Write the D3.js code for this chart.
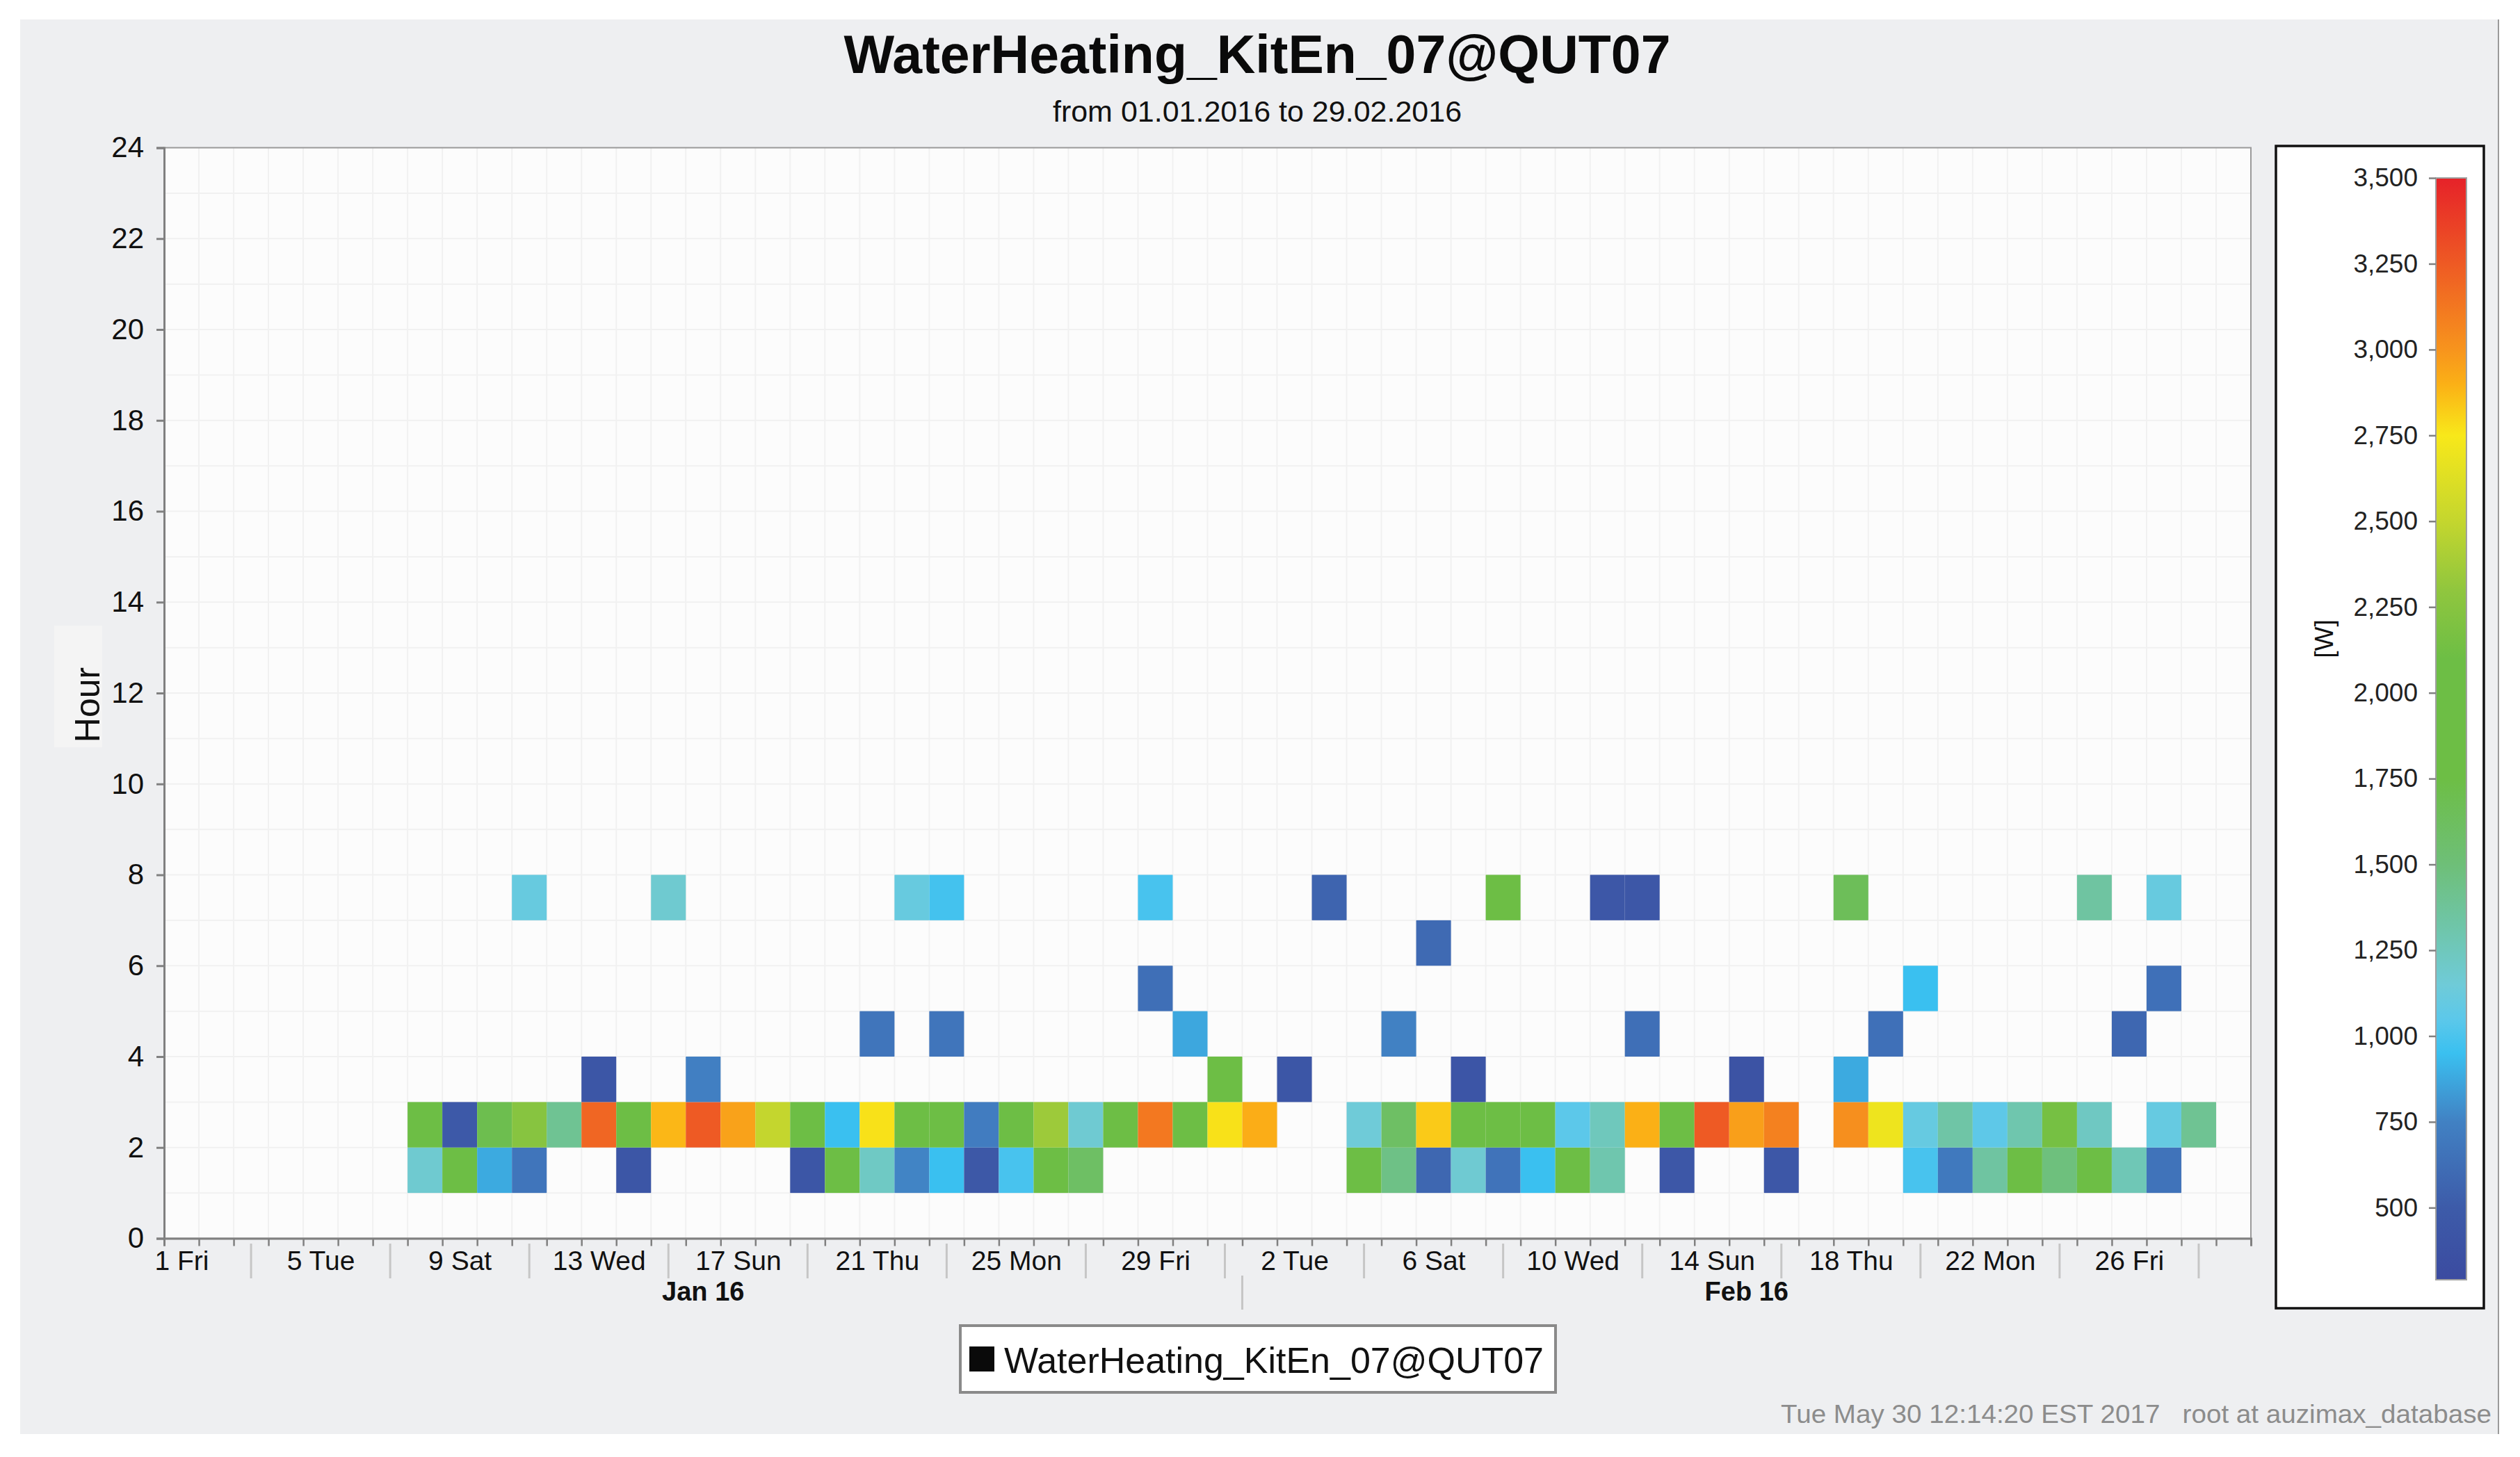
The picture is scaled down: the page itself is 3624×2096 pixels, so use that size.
<!DOCTYPE html>
<html lang="en">
<head>
<meta charset="utf-8">
<script src="https://d3js.org/d3.v7.min.js"></script>
<style>
  body { margin: 0; background: #fff; }
  svg text { font-family: "Liberation Sans", Arial, sans-serif; fill: #111; }
</style>
</head>
<body>
<script>
    // period shown: one column per day, Jan 1 .. Feb 29 2016
    const startDay = "2016-01-01";
    const endDay = "2016-03-01";

    // hour rows (cell spans hour .. hour+1), one value per day, null = no data [W]
    const rowHours = [1, 2, 3, 4, 5, 6, 7];
    const hour1 = [
        null, null, null, null, null, null, null, 1180, 1900, 880,
        670, null, null, 430, null, null, null, null, 430, 1900,
        1220, 760, 950, 460, 990, 1900, 1600, null, null, null,
        null, null, null, null, 1850, 1450, 580, 1170, 660, 950,
        1900, 1300, null, 450, null, null, 450, null, null, null,
        990, 700, 1350, 1900, 1480, 1900, 1270, 660, null, null];
    const hour2 = [
        null, null, null, null, null, null, null, 1900, 480, 1700,
        2250, 1400, 3200, 1800, 2880, 3250, 2950, 2500, 2000, 950,
        2770, 1900, 1900, 720, 2000, 2350, 1170, 1900, 3120, 1900,
        2770, 2910, null, null, 1150, 1600, 2830, 1900, 1900, 1900,
        1050, 1250, 2900, 1900, 3250, 2960, 3080, null, 3020, 2700,
        1100, 1330, 1060, 1300, 2150, 1230, null, 1100, 1400, null];
    const hour3 = [
        null, null, null, null, null, null, null, null, null, null,
        null, null, 430, null, null, 740, null, null, null, null,
        null, null, null, null, null, null, null, null, null, null,
        1900, null, 430, null, null, null, null, 420, null, null,
        null, null, null, null, null, 390, null, null, 880, null,
        null, null, null, null, null, null, null, null, null, null];
    const hour4 = [
        null, null, null, null, null, null, null, null, null, null,
        null, null, null, null, null, null, null, null, null, null,
        670, null, 670, null, null, null, null, null, null, 870,
        null, null, null, null, null, 750, null, null, null, null,
        null, null, 630, null, null, null, null, null, null, 640,
        null, null, null, null, null, null, 580, null, null, null];
    const hour5 = [
        null, null, null, null, null, null, null, null, null, null,
        null, null, null, null, null, null, null, null, null, null,
        null, null, null, null, null, null, null, null, 630, null,
        null, null, null, null, null, null, null, null, null, null,
        null, null, null, null, null, null, null, null, null, null,
        950, null, null, null, null, null, null, 640, null, null];
    const hour6 = [
        null, null, null, null, null, null, null, null, null, null,
        null, null, null, null, null, null, null, null, null, null,
        null, null, null, null, null, null, null, null, null, null,
        null, null, null, null, null, null, 600, null, null, null,
        null, null, null, null, null, null, null, null, null, null,
        null, null, null, null, null, null, null, null, null, null];
    const hour7 = [
        null, null, null, null, null, null, null, null, null, null,
        1110, null, null, null, 1180, null, null, null, null, null,
        null, 1110, 980, null, null, null, null, null, 990, null,
        null, null, null, 560, null, null, null, null, 1750, null,
        null, 450, 450, null, null, null, null, null, 1650, null,
        null, null, null, null, null, 1350, null, 1110, null, null];
    const rows = [hour1, hour2, hour3, hour4, hour5, hour6, hour7];

    // x axis labels
    const tickDays = ["2016-01-01", "2016-01-05", "2016-01-09", "2016-01-13", "2016-01-17",
        "2016-01-21", "2016-01-25", "2016-01-29", "2016-02-02", "2016-02-06", "2016-02-10",
        "2016-02-14", "2016-02-18", "2016-02-22", "2016-02-26"];
    const tickLabels = ["1 Fri", "5 Tue", "9 Sat", "13 Wed", "17 Sun", "21 Thu", "25 Mon",
        "29 Fri", "2 Tue", "6 Sat", "10 Wed", "14 Sun", "18 Thu", "22 Mon", "26 Fri"];
    const monthStarts = ["2016-01-01", "2016-02-01", "2016-03-01"];
    const monthLabels = ["Jan 16", "Feb 16"];

    // colour scale of the legend bar
    const wattMin = 290, wattMax = 3500;
    const legendTicks = [500, 750, 1000, 1250, 1500, 1750, 2000, 2250, 2500, 2750, 3000, 3250, 3500];
    const colorStops = [290, 500, 750, 950, 1050, 1150, 1300, 1500, 1750, 2100, 2300, 2500, 2750, 2900, 3000, 3250, 3500];
    const colorRange = ["#3b4ba0", "#3d5ba9", "#4181c3", "#3ac0f0", "#5cc8ea", "#6fcbd8", "#6fc6ae",
        "#6ebf78", "#6dbe45", "#6dbe45", "#90c63e", "#c4d62e", "#f8e81a", "#fbb016", "#f7941d",
        "#ee5a24", "#e62229"];

    const W = 3624, H = 2096;
    const parse = d3.utcParse("%Y-%m-%d");
    const color = d3.scaleLinear().domain(colorStops).range(colorRange).clamp(true);

    const svg = d3.select("body").append("svg")
        .attr("width", W).attr("height", H);

    // grey chart panel
    svg.append("rect").attr("x", 29).attr("y", 28).attr("width", 3564).attr("height", 2035)
        .attr("fill", "#eeeff1");
    svg.append("line").attr("x1", 3593).attr("x2", 3593).attr("y1", 28).attr("y2", 2063)
        .attr("stroke", "#9a9a9a").attr("stroke-width", 2);

    const x = d3.scaleUtc().domain([parse(startDay), parse(endDay)]).range([236, 3237]);
    const y = d3.scaleLinear().domain([0, 24]).range([1781.5, 212.5]);
    const allDays = d3.utcDay.range(parse(startDay), parse(endDay));

    // plot background + grid
    svg.append("rect").attr("x", x.range()[0]).attr("y", y(24))
        .attr("width", x.range()[1] - x.range()[0]).attr("height", y(0) - y(24))
        .attr("fill", "#fcfcfc");

    const grid = svg.append("g");
    grid.selectAll(".gx").data(allDays.slice(1)).enter().append("line")
        .attr("x1", d => x(d)).attr("x2", d => x(d))
        .attr("y1", y(24)).attr("y2", y(0))
        .attr("stroke", "#f1f1f1").attr("stroke-width", 2);
    grid.selectAll(".gy").data(d3.range(1, 24)).enter().append("line")
        .attr("x1", x.range()[0]).attr("x2", x.range()[1])
        .attr("y1", d => y(d)).attr("y2", d => y(d))
        .attr("stroke", "#f1f1f1").attr("stroke-width", 2);

    // heat cells
    let cells = [];
    rows.forEach(function(arr, r) {
        arr.forEach(function(v, i) {
            if (v != null) {
                cells.push({ day: allDays[i], hour: rowHours[r], value: v });
            }
        });
    });

    svg.append("g").selectAll("rect")
        .data(cells)
        .enter()
        .append("rect")
        .attr("x", d => x(d.day))
        .attr("width", d => x(d3.utcDay.offset(d.day, 1)) - x(d.day))
        .attr("y", d => y(d.hour + 1))
        .attr("height", d => y(d.hour) - y(d.hour + 1))
        .attr("fill", d => color(d.value));

    // plot frame
    svg.append("rect").attr("x", x.range()[0]).attr("y", y(24))
        .attr("width", x.range()[1] - x.range()[0]).attr("height", y(0) - y(24))
        .attr("fill", "none").attr("stroke", "#9a9a9a").attr("stroke-width", 2);

    // y axis
    const yAxis = svg.append("g")
        .attr("transform", "translate(" + x.range()[0] + ",0)")
        .call(d3.axisLeft(y).tickValues(d3.range(0, 25, 2)).tickSize(11).tickPadding(18));
    yAxis.select(".domain").attr("stroke", "#808080").attr("stroke-width", 3);
    yAxis.selectAll(".tick line").attr("stroke", "#808080").attr("stroke-width", 3);
    yAxis.selectAll(".tick text").style("font-size", "42px");

    // x axis: one tick per day
    const xAxis = svg.append("g")
        .attr("transform", "translate(0," + y(0) + ")")
        .call(d3.axisBottom(x).tickValues(allDays.concat([parse(endDay)])).tickSize(11).tickFormat(""));
    xAxis.select(".domain").attr("stroke", "#808080").attr("stroke-width", 3);
    xAxis.selectAll(".tick line").attr("stroke", "#808080").attr("stroke-width", 2.5);

    // day labels centred in their column
    const tickDates = tickDays.map(parse);
    const xLabels = svg.append("g")
        .attr("transform", "translate(0," + y(0) + ")")
        .call(d3.axisBottom(x)
            .tickValues(tickDates.map(d => d3.utcHour.offset(d, 12)))
            .tickSize(0).tickPadding(18)
            .tickFormat((d, i) => tickLabels[i]));
    xLabels.select(".domain").remove();
    xLabels.selectAll(".tick text").style("font-size", "39px");

    // separators between labels
    svg.append("g").selectAll("line")
        .data(tickDates)
        .enter()
        .append("line")
        .attr("x1", d => x(d3.utcHour.offset(d, 60)))
        .attr("x2", d => x(d3.utcHour.offset(d, 60)))
        .attr("y1", 1789).attr("y2", 1839)
        .attr("stroke", "#c6c6c6").attr("stroke-width", 3);

    // month band
    svg.append("line")
        .attr("x1", x(parse(monthStarts[1]))).attr("x2", x(parse(monthStarts[1])))
        .attr("y1", 1835).attr("y2", 1884)
        .attr("stroke", "#c6c6c6").attr("stroke-width", 3);
    svg.append("g").selectAll("text")
        .data(monthLabels)
        .enter()
        .append("text")
        .attr("x", (d, i) => (x(parse(monthStarts[i])) + x(parse(monthStarts[i + 1]))) / 2)
        .attr("y", 1871)
        .attr("text-anchor", "middle")
        .style("font-size", "38px").style("font-weight", "bold")
        .text(d => d);

    // y axis title
    svg.append("rect").attr("x", 78).attr("y", 900).attr("width", 69).attr("height", 175)
        .attr("fill", "#f4f4f4");
    svg.append("text")
        .attr("transform", "translate(143,1014) rotate(-90)")
        .attr("text-anchor", "middle")
        .style("font-size", "50px")
        .text("Hour");

    // titles
    svg.append("text").attr("x", 1808).attr("y", 105).attr("text-anchor", "middle")
        .style("font-size", "77px").style("font-weight", "bold").style("fill", "#0a0a0a")
        .text("WaterHeating_KitEn_07@QUT07");
    svg.append("text").attr("x", 1808).attr("y", 175).attr("text-anchor", "middle")
        .style("font-size", "43px")
        .text("from 01.01.2016 to 29.02.2016");

    // colour legend
    svg.append("rect").attr("x", 3273).attr("y", 210).attr("width", 299).attr("height", 1672)
        .attr("fill", "#fff").attr("stroke", "#111").attr("stroke-width", 3.5);

    const cy = d3.scaleLinear().domain([wattMin, wattMax]).range([1841, 256]);
    const grad = svg.append("defs").append("linearGradient")
        .attr("id", "wattGrad")
        .attr("x1", 0).attr("y1", 1).attr("x2", 0).attr("y2", 0);
    grad.selectAll("stop")
        .data(colorStops)
        .enter()
        .append("stop")
        .attr("offset", d => (d - wattMin) / (wattMax - wattMin))
        .attr("stop-color", d => color(d));

    svg.append("rect").attr("x", 3503).attr("y", cy(wattMax))
        .attr("width", 44).attr("height", cy(wattMin) - cy(wattMax))
        .attr("fill", "url(#wattGrad)").attr("stroke", "#a0a0a0").attr("stroke-width", 2);

    const cAxis = svg.append("g")
        .attr("transform", "translate(3503,0)")
        .call(d3.axisLeft(cy).tickValues(legendTicks).tickSize(10).tickPadding(16).tickFormat(d3.format(",")));
    cAxis.select(".domain").remove();
    cAxis.selectAll(".tick line").attr("stroke", "#808080").attr("stroke-width", 2.5);
    cAxis.selectAll(".tick text").style("font-size", "37px").style("fill", "#222");

    svg.append("text")
        .attr("transform", "translate(3355,919) rotate(-90)")
        .attr("text-anchor", "middle")
        .style("font-size", "37px")
        .text("[W]");

    // series legend
    svg.append("rect").attr("x", 1381).attr("y", 1907).attr("width", 856).attr("height", 96)
        .attr("fill", "#fff").attr("stroke", "#8a8a8a").attr("stroke-width", 4);
    svg.append("rect").attr("x", 1394).attr("y", 1937).attr("width", 36).attr("height", 36)
        .attr("fill", "#0a0a0a");
    svg.append("text").attr("x", 1444).attr("y", 1975)
        .style("font-size", "52px")
        .attr("textLength", 776).attr("lengthAdjust", "spacingAndGlyphs")
        .text("WaterHeating_KitEn_07@QUT07");

    // footer
    svg.append("text").attr("x", 3583).attr("y", 2047).attr("text-anchor", "end")
        .style("font-size", "37px").style("white-space", "pre").style("fill", "#8c8c8c")
        .attr("textLength", 1022).attr("lengthAdjust", "spacingAndGlyphs")
        .text("Tue May 30 12:14:20 EST 2017   root at auzimax_database");
</script>
</body>
</html>
